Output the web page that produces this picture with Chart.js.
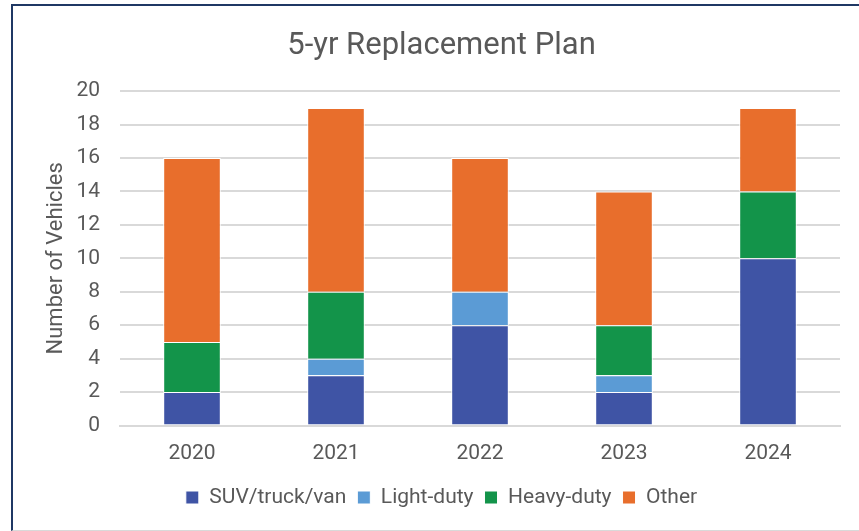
<!DOCTYPE html>
<html>
<head>
<meta charset="utf-8">
<script src="https://cdn.jsdelivr.net/npm/chart.js@4"></script>
<style>
  html, body { margin: 0; padding: 0; background: #fff; }
  #wrap { position: relative; width: 859px; height: 531px; overflow: hidden; }
  #frame { position: absolute; left: 11px; top: 4px; width: 900px; height: 524px;
           border-left: 2px solid #1F3864; border-top: 2px solid #1F3864;
           border-bottom: 1px solid #d9d9d9; }
  #c { position: absolute; left: 0; top: 0; }
</style>
</head>
<body>
<div id="wrap">
  <div id="frame"></div>
  <canvas id="c" width="859" height="531"></canvas>
</div>
<script>
const years = ["2020", "2021", "2022", "2023", "2024"];
const suvTruckVan = [2, 3, 6, 2, 10];
const lightDuty = [0, 1, 2, 1, 0];
const heavyDuty = [3, 4, 0, 3, 4];
const other = [11, 11, 8, 8, 5];

const txt = "#595959";
const font = "Roboto, 'Liberation Sans', sans-serif";

function ds(label, data, color) {
  return {
    label: label,
    data: data,
    backgroundColor: color,
    borderColor: "#ffffff",
    borderWidth: 1,
    barPercentage: 0.4,
    categoryPercentage: 1.0,
  };
}

new Chart(document.getElementById("c"), {
  type: "bar",
  data: {
    labels: years,
    datasets: [
      ds("SUV/truck/van", suvTruckVan, "#3F54A5"),
      ds("Light-duty", lightDuty, "#5B9BD5"),
      ds("Heavy-duty", heavyDuty, "#13944A"),
      ds("Other", other, "#E86E2C"),
    ],
  },
  options: {
    responsive: false,
    animation: false,
    layout: { padding: { left: 43, right: 19, top: 0, bottom: 13 } },
    plugins: {
      title: {
        display: true,
        text: "5-yr Replacement Plan",
        color: txt,
        font: { family: font, size: 31, weight: "normal" },
        padding: { top: 28, bottom: 26 },
      },
      legend: {
        position: "bottom",
        labels: {
          color: txt,
          font: { family: font, size: 21 },
          boxWidth: 13,
          boxHeight: 13,
          padding: 11,
        },
      },
      tooltip: { enabled: false },
    },
    scales: {
      x: {
        stacked: true,
        grid: { display: false, drawTicks: false },
        border: { color: "#d9d9d9", width: 2 },
        ticks: { color: txt, font: { family: font, size: 21 }, padding: 16 },
        afterFit: (s) => { s.height = 50.5; },
      },
      y: {
        stacked: true,
        min: 0,
        max: 20,
        grid: { color: "#d9d9d9", lineWidth: 2, drawTicks: false },
        border: { display: false },
        ticks: { stepSize: 2, color: txt, font: { family: font, size: 21 }, padding: 20 },
        title: {
          display: true,
          text: "Number of Vehicles",
          color: txt,
          font: { family: font, size: 22 },
          padding: 0,
        },
        afterFit: (s) => { s.width = 77; },
      },
    },
  },
});
</script>
</body>
</html>
